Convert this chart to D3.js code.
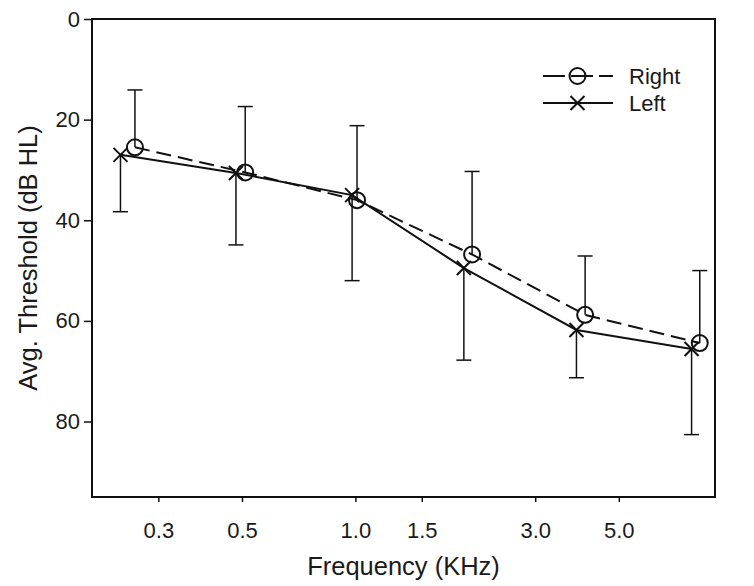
<!DOCTYPE html>
<html>
<head>
<meta charset="utf-8">
<script src="https://cdn.jsdelivr.net/npm/d3@7"></script>
<style>
  html, body { margin: 0; padding: 0; background: #fff; }
  svg text { font-family: "Liberation Sans", Arial, sans-serif; fill: #1a1a1a; }
</style>
</head>
<body>
<svg id="chart" width="754" height="586"></svg>
<script>
// ---- data ----
const rightFreq  = [0.26, 0.51, 1.01, 2.04, 4.07, 8.2];
const rightMean  = [25.5, 30.5, 36.0, 46.8, 58.8, 64.4];
const rightUpper = [14.1, 17.4, 21.2, 30.3, 47.1, 50.0];

const leftFreq   = [0.238, 0.482, 0.98, 1.94, 3.86, 7.8];
const leftMean   = [27.0, 30.6, 35.0, 49.5, 61.8, 65.6];
const leftLower  = [38.3, 44.9, 52.0, 67.8, 71.3, 82.6];

const xTicks = [0.3, 0.5, 1.0, 1.5, 3.0, 5.0];
const yTicks = [0, 20, 40, 60, 80];
const seriesNames = ["Right", "Left"];

// ---- layout ----
const svg = d3.select("#chart");
const L = 92, R = 715, T = 19, B = 497;
const x = d3.scaleLog().domain([0.2, 9]).range([L, R]);
const y = d3.scaleLinear().domain([0, 95]).range([T, B]);
const ink = "#111";

// frame
svg.append("rect").attr("x", L).attr("y", T).attr("width", R - L).attr("height", B - T)
  .attr("fill", "none").attr("stroke", ink).attr("stroke-width", 2);

// axes
const xAxis = svg.append("g").attr("transform", `translate(0,${B})`)
  .call(d3.axisBottom(x).tickValues(xTicks).tickFormat(d3.format(".1f")).tickSize(5).tickPadding(20));
const yAxis = svg.append("g").attr("transform", `translate(${L},0)`)
  .call(d3.axisLeft(y).tickValues(yTicks).tickSize(8).tickPadding(4));
[xAxis, yAxis].forEach(g => {
  g.select(".domain").remove();
  g.selectAll(".tick line").attr("stroke", ink).attr("stroke-width", 1.5);
  g.selectAll(".tick text").attr("font-size", 22).style("font-family", "'Liberation Sans', Arial, sans-serif").attr("fill", "#1a1a1a");
});

// axis labels
svg.append("text").attr("x", (L + R) / 2).attr("y", 575).attr("text-anchor", "middle")
  .attr("font-size", 25.5).text("Frequency (KHz)");
svg.append("text").attr("transform", `translate(37,${(T + B) / 2}) rotate(-90)`)
  .attr("text-anchor", "middle").attr("font-size", 25.5).text("Avg. Threshold (dB HL)");

const right = rightFreq.map((f, i) => ({ f, m: rightMean[i], e: rightUpper[i] }));
const left  = leftFreq.map((f, i) => ({ f, m: leftMean[i], e: leftLower[i] }));

// error bars
function errBars(data) {
  const g = svg.append("g").attr("stroke", ink).attr("stroke-width", 1.5);
  g.selectAll("line.v").data(data).join("line")
    .attr("x1", d => x(d.f)).attr("x2", d => x(d.f))
    .attr("y1", d => y(d.m)).attr("y2", d => y(d.e));
  g.selectAll("line.c").data(data).join("line")
    .attr("x1", d => x(d.f) - 7.5).attr("x2", d => x(d.f) + 7.5)
    .attr("y1", d => y(d.e)).attr("y2", d => y(d.e));
}
errBars(right);
errBars(left);

// lines
const line = d3.line().x(d => x(d.f)).y(d => y(d.m));
svg.append("path").datum(right).attr("d", line).attr("fill", "none")
  .attr("stroke", ink).attr("stroke-width", 2).attr("stroke-dasharray", "15,7");
svg.append("path").datum(left).attr("d", line).attr("fill", "none")
  .attr("stroke", ink).attr("stroke-width", 2);

// markers
function circleMark(g, cx, cy) {
  g.append("circle").attr("cx", cx).attr("cy", cy).attr("r", 8)
    .attr("fill", "none").attr("stroke", ink).attr("stroke-width", 2);
}
function crossMark(g, cx, cy) {
  const s = 7;
  g.append("path").attr("d", `M${cx - s},${cy - s}L${cx + s},${cy + s}M${cx - s},${cy + s}L${cx + s},${cy - s}`)
    .attr("stroke", ink).attr("stroke-width", 2).attr("fill", "none");
}
const mg = svg.append("g");
right.forEach(d => circleMark(mg, x(d.f), y(d.m)));
left.forEach(d => crossMark(mg, x(d.f), y(d.m)));

// legend
const lg = svg.append("g");
const lx1 = 543, lx2 = 613, lmx = 577.5;
lg.append("line").attr("x1", lx1).attr("x2", lx2).attr("y1", 76).attr("y2", 76)
  .attr("stroke", ink).attr("stroke-width", 2).attr("stroke-dasharray", "22,6");
circleMark(lg, lmx, 76);
lg.append("line").attr("x1", lx1).attr("x2", lx2).attr("y1", 103).attr("y2", 103)
  .attr("stroke", ink).attr("stroke-width", 2);
crossMark(lg, lmx, 103);
lg.selectAll("text").data(seriesNames).join("text")
  .attr("x", 629).attr("y", (d, i) => 76 + i * 27).attr("dy", "0.36em")
  .attr("font-size", 22).text(d => d);
</script>
</body>
</html>
